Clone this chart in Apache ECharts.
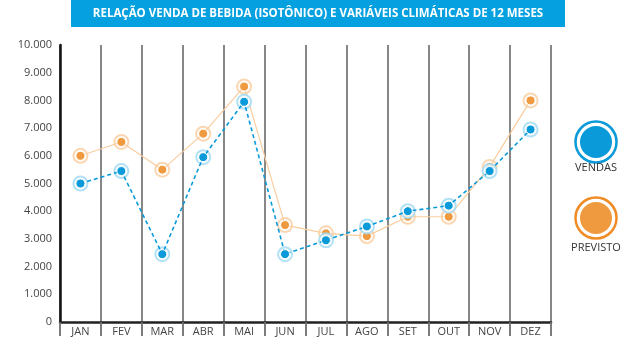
<!DOCTYPE html>
<html>
<head>
<meta charset="utf-8">
<script src="https://cdn.jsdelivr.net/npm/echarts@6/dist/echarts.min.js"></script>
<style>html,body{margin:0;padding:0;background:#fff}#c{width:635px;height:345px}</style>
</head>
<body>
<div id="c"></div>
<script>
var titleText = 'RELAÇÃO VENDA DE BEBIDA (ISOTÔNICO) E VARIÁVEIS CLIMÁTICAS DE 12 MESES';
var months = ['JAN','FEV','MAR','ABR','MAI','JUN','JUL','AGO','SET','OUT','NOV','DEZ'];
var vendas = [5000, 5450, 2450, 5950, 7950, 2450, 2950, 3450, 4000, 4200, 5450, 6950];
var previsto = [6000, 6500, 5500, 6800, 8500, 3500, 3200, 3100, 3800, 3800, 5600, 8000];
var legendNames = ['VENDAS', 'PREVISTO'];

var BLUE = '#0a9ad9', BLUE_L = '#9fd8f2', ORANGE = '#ef9a3f', ORANGE_L = '#f9cd9f';

var chart = echarts.init(document.getElementById('c'));
function fmt(v){ return String(v).replace(/\B(?=(\d{3})+(?!\d))/g, '.'); }

chart.setOption({
  animation: false,
  grid: {left: 60, right: 84, top: 45, bottom: 23},
  xAxis: {
    type: 'category', data: months, boundaryGap: true,
    axisLine: {lineStyle: {color: '#222', width: 2.5}},
    axisTick: {show: true, length: 14, lineStyle: {color: '#6e6e6e', width: 1.8}},
    axisLabel: {color: '#444', fontSize: 11, fontFamily: 'Open Sans', margin: 4},
    splitLine: {show: true, lineStyle: {color: '#7a7a7a', width: 1.8}}
  },
  yAxis: {
    type: 'value', min: 0, max: 10000, interval: 1000,
    axisLine: {show: true, lineStyle: {color: '#111', width: 2.5}},
    axisTick: {show: false},
    splitLine: {show: false},
    axisLabel: {color: '#444', fontSize: 11, fontFamily: 'Open Sans', margin: 8, formatter: fmt}
  },
  series: [
    {name: 'previsto-ring', type: 'scatter', data: previsto, symbolSize: 14, z: 2,
     itemStyle: {color: '#fff', borderColor: ORANGE_L, borderWidth: 2}, silent: true},
    {name: legendNames[1], type: 'line', data: previsto, symbol: 'circle', symbolSize: 9, z: 3,
     lineStyle: {color: ORANGE_L, width: 1.2},
     itemStyle: {color: ORANGE, borderColor: '#fff', borderWidth: 1}},
    {name: 'vendas-ring', type: 'scatter', data: vendas, symbolSize: 14, z: 4,
     itemStyle: {color: '#fff', borderColor: BLUE_L, borderWidth: 2}, silent: true},
    {name: legendNames[0], type: 'line', data: vendas, symbol: 'circle', symbolSize: 9, z: 5,
     lineStyle: {color: BLUE, width: 1.6, type: [4, 3]},
     itemStyle: {color: BLUE, borderColor: '#fff', borderWidth: 1}}
  ],
  graphic: [
    {type: 'rect', shape: {x: 71, y: 0, width: 494, height: 27}, style: {fill: '#04a0df'}},
    {type: 'text', x: 318, y: 14, style: {text: titleText, fill: '#fff', font: 'bold 11.5px "Liberation Sans Narrow", "Open Sans", sans-serif', textAlign: 'center', textVerticalAlign: 'middle'}},
    {type: 'circle', shape: {cx: 596, cy: 142, r: 20.5}, style: {fill: '#fff', stroke: BLUE, lineWidth: 2.5}},
    {type: 'circle', shape: {cx: 596, cy: 142, r: 16}, style: {fill: BLUE}},
    {type: 'text', x: 596, y: 168, style: {text: legendNames[0], fill: '#333', font: '11px "Open Sans", sans-serif', textAlign: 'center', textVerticalAlign: 'middle'}},
    {type: 'circle', shape: {cx: 596, cy: 218, r: 20.5}, style: {fill: '#fff', stroke: '#f08c26', lineWidth: 2.5}},
    {type: 'circle', shape: {cx: 596, cy: 218, r: 16}, style: {fill: ORANGE}},
    {type: 'text', x: 596, y: 248, style: {text: legendNames[1], fill: '#333', font: '11px "Open Sans", sans-serif', textAlign: 'center', textVerticalAlign: 'middle'}}
  ]
});
</script>
</body>
</html>
